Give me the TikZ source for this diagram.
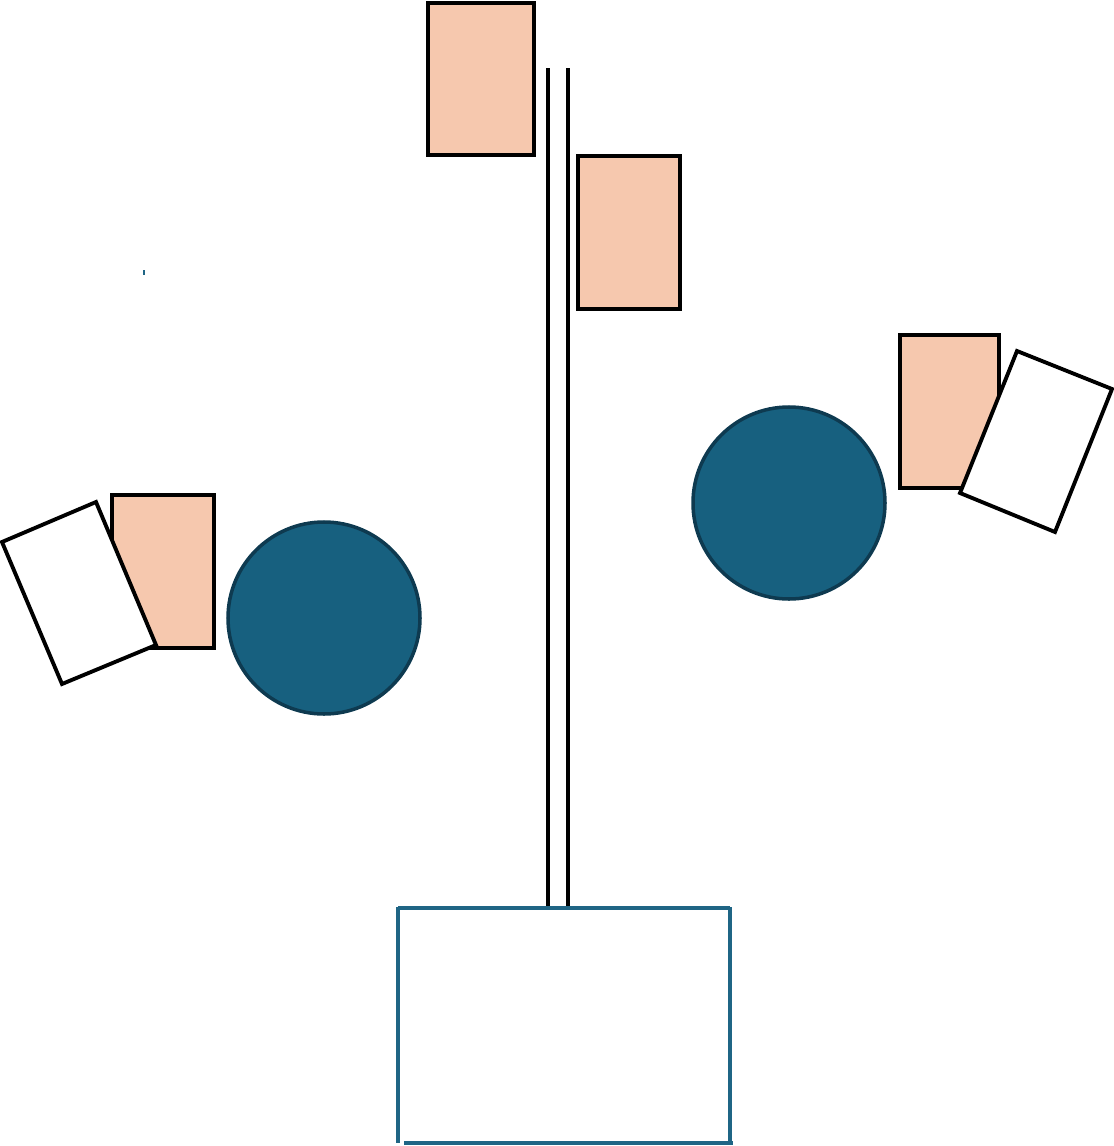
\documentclass[tikz,border=0pt]{standalone}
\usepackage{xcolor}
\definecolor{cPeach}{HTML}{F6C8AE}
\definecolor{cBall}{HTML}{17607F}
\definecolor{cBallEdge}{HTML}{0E3A50}
\definecolor{cFrame}{HTML}{1F6585}
\usepackage{tikz}
\usetikzlibrary{calc}
\tikzset{
  card-peach/.style={draw=black,line width=2.2pt,fill=cPeach},
  card-blank/.style={draw=black,line width=2.2pt,fill=white},
  ball/.style={draw=cBallEdge,line width=2pt,fill=cBall},
  pole/.style={draw=black,line width=2.2pt},
  frame-line/.style={draw=cFrame,line width=2.2pt},
}
\begin{document}
\begin{tikzpicture}[x=0.02cm,y=-0.02cm]
  \useasboundingbox (0,0) rectangle (1114,1146);
  % top cards and the pole
  \draw[card-peach] (428,3) rectangle (534,155);
  \draw[card-peach] (578,156) rectangle (680,309);
  \draw[pole] (548,68) -- (548,908);
  \draw[pole] (568,68) -- (568,908);
  % right group
  \draw[card-peach] (900,335) rectangle (999,488);
  \draw[card-blank] (1017,351) -- (1112,389) -- (1055,532) -- (960,493) -- cycle;
  \draw[ball] (789,503) circle (96);
  % left group
  \draw[card-peach] (112,495) rectangle (214,648);
  \draw[card-blank] (2,542) -- (96,502) -- (156,645) -- (62,684) -- cycle;
  \draw[ball] (324,618) circle (96);
  % stray tick
  \draw[cFrame,line width=0.8pt] (144,270) -- (144,275);
  % bottom frame
  \draw[frame-line] (398,908) -- (730,908);
  \draw[frame-line] (398,907) -- (398,1143);
  \draw[frame-line] (730,907) -- (730,1143);
  \draw[frame-line] (404,1143) -- (733,1143);
\end{tikzpicture}
\end{document}
